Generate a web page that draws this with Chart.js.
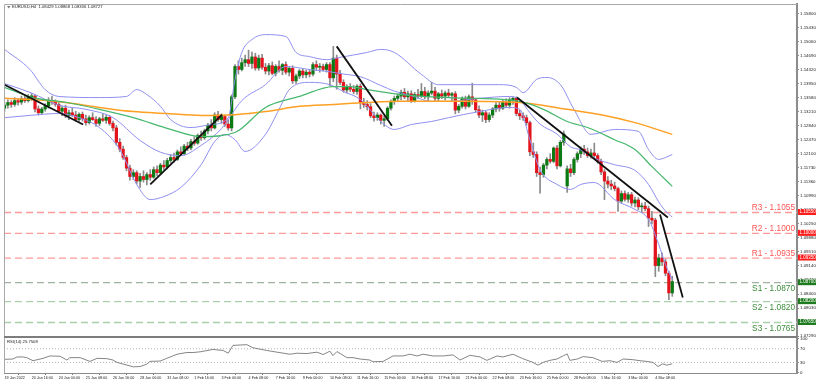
<!DOCTYPE html>
<html>
<head>
<meta charset="utf-8">
<script src="https://cdn.jsdelivr.net/npm/chart.js@4.4.1/dist/chart.umd.min.js"></script>
<style>
html,body{margin:0;padding:0;background:#ffffff;overflow:hidden;}
#box{position:relative;width:820px;height:385px;}
canvas{display:block;}
</style>
</head>
<body>
<div id="box"><canvas id="chart" width="820" height="385"></canvas></div>
<script>
// ---------- DATA (EURUSD H4, 19 Jan 2022 08:00 .. 7 Mar 2022 04:00) ----------
const opens = [
1.1330,1.1338,1.1345,1.1340,1.1350,1.1346,1.1355,1.1350,1.1360,1.1362,
1.1328,1.1318,1.1328,1.1336,1.1350,1.1346,1.1340,1.1322,1.1330,1.1310,
1.1318,1.1312,1.1300,1.1314,1.1302,1.1292,1.1305,1.1300,1.1290,1.1302,
1.1298,1.1306,1.1290,1.1278,1.1240,1.1222,1.1200,1.1172,1.1150,1.1160,
1.1138,1.1150,1.1142,1.1155,1.1148,1.1168,1.1160,1.1180,1.1175,1.1192,
1.1200,1.1195,1.1215,1.1210,1.1230,1.1225,1.1242,1.1238,1.1258,1.1252,
1.1270,1.1285,1.1278,1.1312,1.1300,1.1308,1.1288,1.1278,1.1360,1.1440,
1.1432,1.1450,1.1458,1.1448,1.1465,1.1436,1.1462,1.1438,1.1428,1.1442,
1.1422,1.1440,1.1430,1.1445,1.1425,1.1435,1.1402,1.1415,1.1428,1.1418,
1.1425,1.1420,1.1445,1.1438,1.1440,1.1432,1.1445,1.1410,1.1462,1.1420,
1.1398,1.1378,1.1386,1.1380,1.1374,1.1388,1.1345,1.1340,1.1334,1.1310,
1.1305,1.1312,1.1298,1.1302,1.1330,1.1348,1.1356,1.1362,1.1372,1.1360,
1.1368,1.1350,1.1366,1.1362,1.1374,1.1360,1.1370,1.1375,1.1356,1.1368,
1.1362,1.1370,1.1364,1.1368,1.1325,1.1335,1.1355,1.1335,1.1360,1.1352,
1.1326,1.1312,1.1318,1.1300,1.1312,1.1328,1.1338,1.1330,1.1345,1.1338,
1.1352,1.1356,1.1316,1.1310,1.1305,1.1292,1.1215,1.1208,1.1160,1.1155,
1.1180,1.1195,1.1190,1.1225,1.1178,1.1240,1.1125,1.1170,1.1160,1.1195,
1.1210,1.1222,1.1215,1.1205,1.1212,1.1205,1.1190,1.1162,1.1138,1.1130,
1.1125,1.1118,1.1085,1.1105,1.1090,1.1102,1.1080,1.1088,1.1070,1.1072,
1.1065,1.1040,1.1035,1.0915,1.0935,1.0925,1.0895,1.0843];
const highs = [
1.1345,1.1352,1.1350,1.1358,1.1356,1.1362,1.1365,1.1366,1.1369,1.1365,
1.1336,1.1332,1.1342,1.1358,1.1362,1.1352,1.1345,1.1335,1.1338,1.1325,
1.1330,1.1322,1.1318,1.1320,1.1312,1.1310,1.1318,1.1308,1.1306,1.1315,
1.1312,1.1310,1.1296,1.1285,1.1250,1.1230,1.1206,1.1180,1.1168,1.1165,
1.1158,1.1165,1.1160,1.1168,1.1175,1.1178,1.1185,1.1192,1.1198,1.1208,
1.1212,1.1220,1.1228,1.1235,1.1240,1.1248,1.1255,1.1262,1.1270,1.1275,
1.1290,1.1300,1.1318,1.1322,1.1315,1.1312,1.1300,1.1365,1.1445,1.1455,
1.1462,1.1470,1.1483,1.1478,1.1475,1.1470,1.1472,1.1448,1.1448,1.1452,
1.1445,1.1455,1.1448,1.1452,1.1440,1.1442,1.1420,1.1432,1.1435,1.1430,
1.1432,1.1450,1.1455,1.1448,1.1446,1.1450,1.1450,1.1493,1.1470,1.1430,
1.1405,1.1392,1.1395,1.1390,1.1392,1.1394,1.1356,1.1350,1.1342,1.1320,
1.1318,1.1315,1.1310,1.1334,1.1352,1.1362,1.1368,1.1378,1.1382,1.1375,
1.1376,1.1372,1.1380,1.1395,1.1385,1.1376,1.1398,1.1385,1.1372,1.1378,
1.1375,1.1380,1.1372,1.1374,1.1340,1.1360,1.1362,1.1365,1.1396,1.1356,
1.1336,1.1325,1.1322,1.1318,1.1332,1.1345,1.1348,1.1352,1.1355,1.1358,
1.1360,1.1360,1.1325,1.1318,1.1312,1.1296,1.1238,1.1215,1.1175,1.1185,
1.1200,1.1210,1.1228,1.1232,1.1245,1.1270,1.1178,1.1182,1.1200,1.1215,
1.1228,1.1232,1.1225,1.1222,1.1238,1.1210,1.1196,1.1168,1.1150,1.1140,
1.1135,1.1122,1.1112,1.1112,1.1108,1.1108,1.1096,1.1094,1.1080,1.1082,
1.1072,1.1058,1.1040,1.0945,1.0948,1.0932,1.0900,1.0887];
const lows = [
1.1322,1.1330,1.1332,1.1335,1.1338,1.1340,1.1345,1.1346,1.1350,1.1320,
1.1312,1.1314,1.1322,1.1330,1.1340,1.1335,1.1318,1.1310,1.1305,1.1300,
1.1308,1.1296,1.1295,1.1296,1.1285,1.1288,1.1298,1.1282,1.1284,1.1295,
1.1290,1.1285,1.1270,1.1232,1.1215,1.1195,1.1165,1.1140,1.1142,1.1130,
1.1121,1.1135,1.1128,1.1140,1.1145,1.1152,1.1155,1.1168,1.1170,1.1185,
1.1188,1.1192,1.1205,1.1206,1.1218,1.1220,1.1232,1.1235,1.1245,1.1248,
1.1262,1.1270,1.1275,1.1295,1.1290,1.1282,1.1272,1.1270,1.1355,1.1420,
1.1428,1.1440,1.1440,1.1435,1.1430,1.1430,1.1432,1.1420,1.1418,1.1418,
1.1415,1.1425,1.1418,1.1420,1.1415,1.1395,1.1395,1.1408,1.1410,1.1410,
1.1412,1.1415,1.1430,1.1425,1.1428,1.1425,1.1388,1.1400,1.1380,1.1392,
1.1372,1.1370,1.1374,1.1368,1.1366,1.1328,1.1332,1.1325,1.1305,1.1296,
1.1298,1.1288,1.1282,1.1298,1.1325,1.1340,1.1348,1.1352,1.1355,1.1350,
1.1345,1.1346,1.1356,1.1358,1.1355,1.1350,1.1365,1.1350,1.1348,1.1355,
1.1352,1.1358,1.1350,1.1315,1.1318,1.1330,1.1328,1.1332,1.1340,1.1320,
1.1305,1.1295,1.1292,1.1294,1.1305,1.1320,1.1322,1.1326,1.1332,1.1330,
1.1340,1.1310,1.1300,1.1298,1.1285,1.1205,1.1200,1.1150,1.1106,1.1148,
1.1170,1.1185,1.1186,1.1170,1.1175,1.1232,1.1108,1.1150,1.1155,1.1188,
1.1200,1.1208,1.1200,1.1198,1.1200,1.1185,1.1155,1.1089,1.1120,1.1115,
1.1112,1.1058,1.1080,1.1085,1.1082,1.1072,1.1070,1.1062,1.1055,1.1060,
1.1018,1.1025,1.0886,1.0900,1.0915,1.0888,1.0825,1.0834];
const closes = [
1.1338,1.1345,1.1340,1.1350,1.1346,1.1355,1.1350,1.1360,1.1362,1.1328,
1.1318,1.1328,1.1336,1.1350,1.1346,1.1340,1.1322,1.1330,1.1310,1.1318,
1.1312,1.1300,1.1314,1.1302,1.1292,1.1305,1.1300,1.1290,1.1302,1.1298,
1.1306,1.1290,1.1278,1.1240,1.1222,1.1200,1.1172,1.1150,1.1160,1.1138,
1.1150,1.1142,1.1155,1.1148,1.1168,1.1160,1.1180,1.1175,1.1192,1.1200,
1.1195,1.1215,1.1210,1.1230,1.1225,1.1242,1.1238,1.1258,1.1252,1.1270,
1.1285,1.1278,1.1312,1.1300,1.1308,1.1288,1.1278,1.1360,1.1440,1.1432,
1.1450,1.1458,1.1448,1.1465,1.1436,1.1462,1.1438,1.1428,1.1442,1.1422,
1.1440,1.1430,1.1445,1.1425,1.1435,1.1402,1.1415,1.1428,1.1418,1.1425,
1.1420,1.1445,1.1438,1.1440,1.1432,1.1445,1.1410,1.1462,1.1420,1.1398,
1.1378,1.1386,1.1380,1.1374,1.1388,1.1345,1.1340,1.1334,1.1310,1.1305,
1.1312,1.1298,1.1302,1.1330,1.1348,1.1356,1.1362,1.1372,1.1360,1.1368,
1.1350,1.1366,1.1362,1.1374,1.1360,1.1370,1.1375,1.1356,1.1368,1.1362,
1.1370,1.1364,1.1368,1.1325,1.1335,1.1355,1.1335,1.1360,1.1352,1.1326,
1.1312,1.1318,1.1300,1.1312,1.1328,1.1338,1.1330,1.1345,1.1338,1.1352,
1.1356,1.1316,1.1310,1.1305,1.1292,1.1215,1.1208,1.1160,1.1155,1.1180,
1.1195,1.1190,1.1225,1.1178,1.1240,1.1262,1.1170,1.1160,1.1195,1.1210,
1.1222,1.1215,1.1205,1.1212,1.1205,1.1190,1.1162,1.1138,1.1130,1.1125,
1.1118,1.1085,1.1105,1.1090,1.1102,1.1080,1.1088,1.1070,1.1072,1.1065,
1.1040,1.1035,1.0915,1.0935,1.0925,1.0895,1.0843,1.0873];

// time axis labels (one every 8 bars)
const timeLabels = ["19 Jan 2022","20 Jan 16:00","24 Jan 00:00","25 Jan 08:00","26 Jan 16:00","28 Jan 00:00",
  "31 Jan 08:00","1 Feb 16:00","3 Feb 00:00","4 Feb 08:00","7 Feb 16:00","9 Feb 00:00","10 Feb 08:00",
  "11 Feb 16:00","15 Feb 00:00","16 Feb 08:00","17 Feb 16:00","21 Feb 00:00","22 Feb 08:00","23 Feb 16:00",
  "25 Feb 00:00","28 Feb 08:00","1 Mar 16:00","3 Mar 00:00","4 Mar 08:00"];
const timeLabelIdx = [0,8,16,24,32,40,48,56,64,72,80,88,96,104,112,120,128,136,144,152,160,168,176,184,192];

// price axis ticks
const priceTicks = [1.0729,1.0766,1.0803,1.0840,1.0877,1.0914,1.0951,1.0988,1.1025,1.1062,1.1099,1.1136,
  1.1173,1.1210,1.1247,1.1284,1.1321,1.1358,1.1395,1.1432,1.1469,1.1506,1.1543,1.1580];

// Bollinger bands (read at sample bars)
const bbUpperIdx = [0,7.5,12,16,28,36,39,42,46,49,55,61,66,68,70,73,77,83,86,90,95,99,107,111,115,123,128,146,151,153,157,160,164,168,173,180,187,190,193,195,197];
const bbUpper = [1.1485,1.1432,1.1379,1.1361,1.1358,1.1361,1.1379,1.1366,1.1335,1.1300,1.1279,1.1287,1.1305,1.1406,1.1477,1.1511,1.1524,1.1519,1.1477,1.1466,1.1458,1.1464,1.1477,1.1485,1.1477,1.1419,1.1392,1.1392,1.1385,1.1371,1.1406,1.1411,1.1392,1.1327,1.1261,1.1274,1.1269,1.1221,1.1195,1.1200,1.1208];
const bbMidIdx = [0,8,16,24,32,40,46,52,58,64,70,77,83,90,96,100,105,111,115,120,126,131,140,149,152,155,158,163,167,170,174,180,186,190,193,195,197];
const bbMid = [1.1395,1.1370,1.1338,1.1327,1.1305,1.1245,1.1214,1.1205,1.1232,1.1276,1.1350,1.1392,1.1440,1.1432,1.1426,1.1420,1.1413,1.1390,1.1375,1.1363,1.1348,1.1348,1.1356,1.1361,1.1352,1.1318,1.1288,1.1262,1.1228,1.1220,1.1198,1.1181,1.1166,1.1129,1.1083,1.1059,1.1043];
const bbLowerIdx = [0,7.5,16,22,28,34,39,43,47,52,58,62,65,68,71,77,81,84,90,96,100,105,111,115,120,126,131,140,149,152,155,158,163,167,170,174,180,186,190,193,195,197];
const bbLower = [1.1305,1.1311,1.1316,1.1305,1.1279,1.1221,1.1129,1.1089,1.1097,1.1121,1.1181,1.1242,1.1261,1.1247,1.1216,1.1261,1.1327,1.1379,1.1398,1.1392,1.1374,1.1353,1.1295,1.1274,1.1287,1.1295,1.1305,1.1321,1.1332,1.1327,1.1247,1.1168,1.1129,1.1116,1.1129,1.1134,1.1089,1.1063,1.1037,1.0971,1.0918,1.0878];

// moving averages (green = faster, orange = slower)
const maGreenIdx = [0,8.4,18.4,28,38,49,58,68,77,87,97,102,107,117,131,152,159,166,172,180,186,191,197];
const maGreen = [1.1385,1.1358,1.1345,1.1327,1.1305,1.1274,1.1255,1.1266,1.1332,1.1361,1.1387,1.1387,1.1379,1.1366,1.1358,1.1348,1.1327,1.1295,1.1279,1.1247,1.1221,1.1176,1.1124];
const maOrangeIdx = [0,8.4,18,28,38,48,58,68,77,87,97,107,117,134,152,166,176,186,197];
const maOrange = [1.1356,1.1353,1.1345,1.1332,1.1321,1.1316,1.1311,1.1313,1.1321,1.1335,1.1340,1.1345,1.1348,1.1348,1.1345,1.1327,1.1313,1.1292,1.1261];

// hand-drawn trend lines: [startBar, startPrice, endBar, endPrice]
const trendLines = [
  [0, 1.1392, 23.2, 1.1287],
  [43, 1.1129, 64.2, 1.1313],
  [98, 1.1493, 114.3, 1.1284],
  [151.2, 1.1358, 195.7, 1.1042],
  [193.4, 1.1050, 200.1, 1.0831]
];

// support / resistance
const srNames = ["R3","R2","R1","S1","S2","S3"];
const srLevels = [1.1055, 1.1000, 1.0935, 1.0870, 1.0820, 1.0765];

// RSI(14)
const rsiIdx = [0,2.5,3.7,5.5,6.6,8.4,11.4,13.4,16.4,18.4,19.3,22.3,25.2,27.3,30.2,32,33.2,38,40,42,42.9,45.9,47.9,50.9,53.8,55.6,57.7,61.5,64.5,66,67.4,71.5,73.3,77.4,80.4,84.2,86.3,89.2,92.2,94,96,96.9,98.1,101,102.8,104.9,107.8,108.7,111.7,114.6,117.6,119.6,121.7,123.5,126.4,129.4,132.3,134.4,137.3,140.3,142.3,145.3,147,150,152.9,155.9,157.4,158.9,160.9,163,164.8,166,166.8,169,170.7,173.6,176.3,178.6,180.7,182.5,185.4,187.5,189.5,191.3,192.8,194.2,195.4,197];
const rsiVal = [39,40,46,46,44,35,42,49,48,37,44,44,33,42,41,37,30,17,18,25,33,34,42,54,59,59,61,68,65,57,80,82,73,65,60,54,57,56,60,53,63,50,62,44,44,40,37,32,33,49,49,54,49,54,49,49,52,37,51,46,36,49,46,54,41,30,22,30,36,40,49,55,36,40,47,44,33,35,30,40,38,35,33,30,18,26,22,26];
const rsiLevels = [30, 70];
const rsiTicks = [0, 30, 70, 100];
const rsiLast = "25.7508";
const titleText = "EURUSD,H4  1.08429 1.08868 1.08336 1.08727";

// ---------- CHART ----------
const FONT = "'Liberation Sans', Arial, sans-serif";
const xMin = -0.15, xMax = 233.8;
const yMin = 1.07268, yMax = 1.16047;

const pts = (ix, vals) => ix.map((x, k) => ({x: x, y: vals[k]}));
const barIdx = closes.map((c, i) => i);

const datasets = [];
srLevels.forEach((lv, k) => {
  const isR = srNames[k][0] === 'R';
  datasets.push({type:'line', yAxisID:'y', order:20, data:[{x:xMin,y:lv},{x:xMax,y:lv}],
    borderColor: isR ? '#ff9a9a' : (srNames[k] === 'S1' ? '#9fb29f' : '#a9d0a9'),
    borderWidth: 1.3, borderDash:[7,4], pointRadius:0, fill:false});
});
datasets.push({type:'bar', yAxisID:'y', order:12, grouped:false, barThickness:1,
  data: barIdx.map(i => ({x:i, y:[lows[i], highs[i]]})), backgroundColor:'#8a8a8a', borderWidth:0});
datasets.push({type:'bar', yAxisID:'y', order:11, grouped:false, barThickness:2.6, minBarLength:1,
  data: barIdx.map(i => ({x:i, y:[opens[i], closes[i]]})),
  backgroundColor: barIdx.map(i => closes[i] >= opens[i] ? '#0b7a12' : '#e3141c'), borderWidth:0});
[[bbUpperIdx,bbUpper],[bbMidIdx,bbMid],[bbLowerIdx,bbLower]].forEach(([ix,v]) => {
  datasets.push({type:'line', yAxisID:'y', order:8, data: pts(ix, v), borderColor:'#8f8ff0', borderWidth:1,
    pointRadius:0, fill:false, cubicInterpolationMode:'monotone'});
});
datasets.push({type:'line', yAxisID:'y', order:7, data: pts(maGreenIdx, maGreen), borderColor:'#46b86e', borderWidth:1.2,
  pointRadius:0, fill:false, cubicInterpolationMode:'monotone'});
datasets.push({type:'line', yAxisID:'y', order:7, data: pts(maOrangeIdx, maOrange), borderColor:'#ffa024', borderWidth:1.5,
  pointRadius:0, fill:false, cubicInterpolationMode:'monotone'});
trendLines.forEach(t => {
  datasets.push({type:'line', yAxisID:'y', order:5, data:[{x:t[0],y:t[1]},{x:t[2],y:t[3]}],
    borderColor:'#111111', borderWidth:1.8, pointRadius:0, fill:false});
});
rsiLevels.forEach(lv => {
  datasets.push({type:'line', yAxisID:'rsi', order:4, data:[{x:xMin,y:lv},{x:xMax,y:lv}],
    borderColor:'#b4b4b4', borderWidth:1, borderDash:[1,2], pointRadius:0, fill:false});
});
datasets.push({type:'line', yAxisID:'rsi', order:3, data: pts(rsiIdx, rsiVal), borderColor:'#858585', borderWidth:1,
  pointRadius:0, fill:false, tension:0});

const overlay = {
  id: 'overlay',
  afterDraw(chart) {
    const {ctx, chartArea: a} = chart;
    const ys = chart.scales.y;
    ctx.save();
    // frame
    ctx.strokeStyle = '#a8a8a8'; ctx.lineWidth = 1;
    ctx.beginPath();
    ctx.moveTo(a.left + 0.5, a.bottom); ctx.lineTo(a.left + 0.5, a.top + 0.5); ctx.lineTo(a.right, a.top + 0.5);
    ctx.stroke();
    // panel separator
    ctx.fillStyle = '#7d7d7d';
    ctx.fillRect(a.left, ys.bottom - 1, a.right - a.left, 2);
    // S/R texts and price tags
    srLevels.forEach((lv, k) => {
      const py = ys.getPixelForValue(lv);
      const isR = srNames[k][0] === 'R';
      ctx.font = '8.3px ' + FONT;
      ctx.textAlign = 'right'; ctx.textBaseline = 'alphabetic';
      ctx.fillStyle = isR ? '#ff5454' : '#3a8c3a';
      ctx.fillText(srNames[k] + ' - ' + lv.toFixed(4), a.right - 2, isR ? py - 2.5 : py + 8.5);
      ctx.fillStyle = isR ? '#ff1c1c' : '#1d7a1d';
      ctx.fillRect(a.right + 1, py - 3.5, 18, 6);
      ctx.fillStyle = '#ffffff';
      ctx.font = '4.5px ' + FONT; ctx.textAlign = 'left'; ctx.textBaseline = 'middle';
      ctx.fillText(lv.toFixed(5), a.right + 2.5, py - 0.5);
    });
    // title
    ctx.fillStyle = '#7a7a7a';
    ctx.beginPath(); ctx.moveTo(7, 6); ctx.lineTo(10.5, 6); ctx.lineTo(8.75, 8.5); ctx.closePath(); ctx.fill();
    ctx.fillStyle = '#222'; ctx.font = '4.2px ' + FONT; ctx.textAlign = 'left'; ctx.textBaseline = 'middle';
    ctx.fillText(titleText, 12, 7.3);
    ctx.fillText('RSI(14) ' + rsiLast, a.left + 3, ys.bottom + 5);
    ctx.restore();
  }
};

new Chart(document.getElementById('chart'), {
  type: 'bar',
  data: { datasets },
  options: {
    responsive: false, animation: false, maintainAspectRatio: false,
    layout: { padding: { left: 4, top: 4, right: 0, bottom: 0 } },
    plugins: { legend: {display:false}, tooltip: {enabled:false}, title: {display:false} },
    scales: {
      x: { type:'linear', min:xMin, max:xMax, offset:false, position:'bottom',
        grid: { display:true, drawOnChartArea:false, drawTicks:true, tickLength:2, color:'#7a7a7a' },
        border: { display:true, color:'#8c8c8c', width:1 },
        ticks: { autoSkip:false, maxRotation:0, minRotation:0, align:'start', padding:1,
          font:{family:FONT, size:3.7}, color:'#222',
          callback: (v) => { const k = timeLabelIdx.indexOf(v); return k >= 0 ? timeLabels[k] : ''; } },
        afterBuildTicks: s => { s.ticks = timeLabelIdx.map(v => ({value:v})); },
        afterFit: s => { s.height = 12; } },
      y: { type:'linear', position:'right', stack:'panes', stackWeight:333, min:yMin, max:yMax,
        grid: { display:true, drawOnChartArea:false, tickLength:2, color:'#8c8c8c' },
        border: { display:true, color:'#8c8c8c', width:2 },
        ticks: { autoSkip:false, padding:1, font:{family:FONT, size:4.4}, color:'#222',
          callback: v => Number(v).toFixed(5) },
        afterBuildTicks: s => { s.ticks = priceTicks.map(v => ({value:v})); },
        afterFit: s => { s.width = 23; } },
      rsi: { type:'linear', position:'right', stack:'panes', stackWeight:36, min:-1, max:104.5,
        grid: { display:true, drawOnChartArea:false, tickLength:2, color:'#8c8c8c' },
        border: { display:true, color:'#8c8c8c', width:2 },
        ticks: { autoSkip:false, padding:1, font:{family:FONT, size:4.4}, color:'#222',
          callback: v => String(v) },
        afterBuildTicks: s => { s.ticks = rsiTicks.map(v => ({value:v})); },
        afterFit: s => { s.width = 23; } }
    }
  },
  plugins: [overlay]
});
</script>
</body>
</html>
